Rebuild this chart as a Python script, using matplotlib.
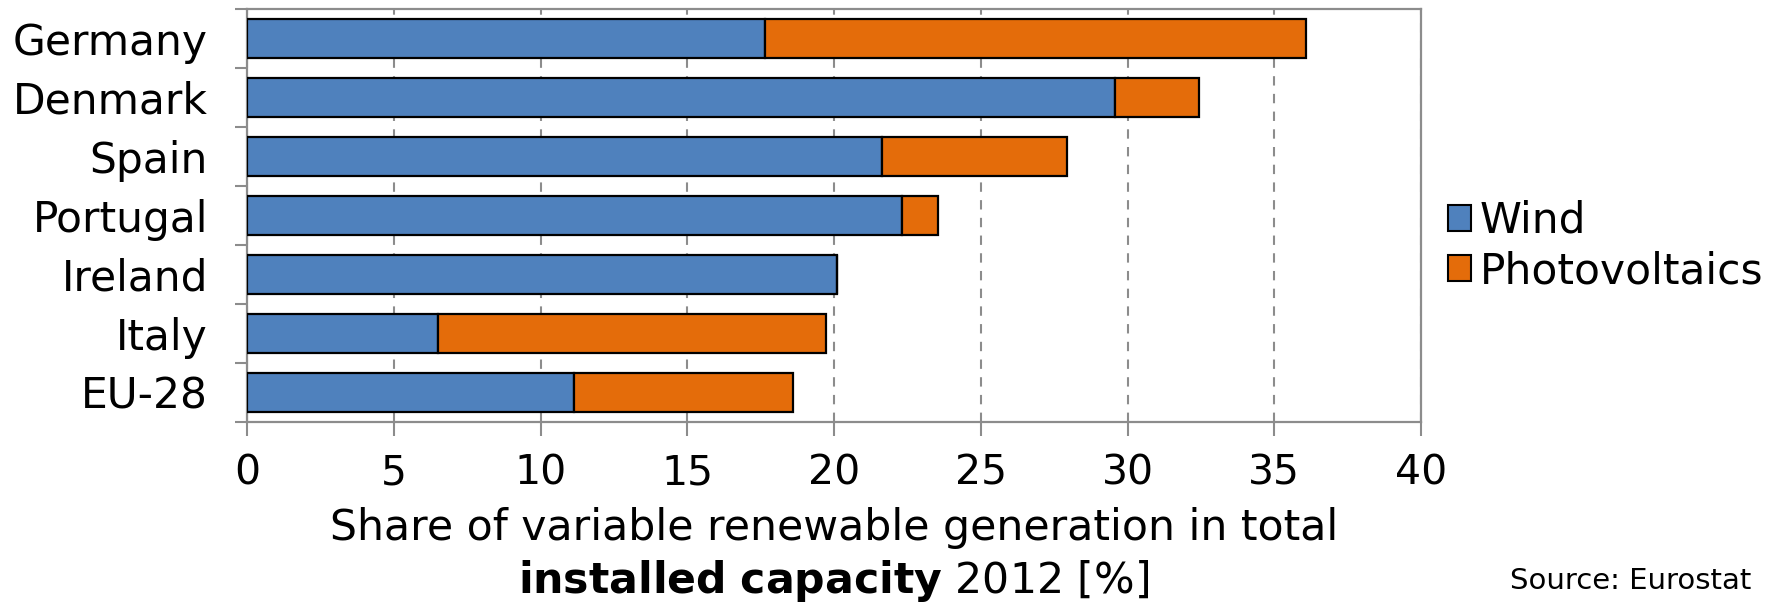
import matplotlib
matplotlib.use("Agg")
import matplotlib.pyplot as plt
from matplotlib.patches import Patch
import numpy as np

plt.rcParams['font.family'] = ['DejaVu Sans']
plt.rcParams['mathtext.fontset'] = 'dejavusans'

# Share of variable renewable generation in total installed capacity, 2012 [%]
countries = ["Germany", "Denmark", "Spain", "Portugal", "Ireland", "Italy", "EU-28"]
wind = [17.65, 29.57, 21.65, 22.33, 20.09, 6.51, 11.15]
photovoltaics = [18.43, 2.86, 6.29, 1.21, 0.0, 13.23, 7.44]
x_ticks = [0, 5, 10, 15, 20, 25, 30, 35, 40]

WIND_COLOR = "#4F81BD"
PV_COLOR = "#E46C0A"
FRAME_COLOR = "#8C8C8C"

fig = plt.figure(figsize=(17.77, 6.05), dpi=100)
ax = fig.add_axes([247 / 1777, 1 - 421.6 / 605, (1421 - 247) / 1777, (421.6 - 9) / 605])

y = np.arange(len(countries))
bar_h = 0.66
ax.barh(y, wind, height=bar_h, color=WIND_COLOR, edgecolor="black", linewidth=1.6,
        label="Wind", zorder=3)
ax.barh(y, photovoltaics, left=wind, height=bar_h, color=PV_COLOR, edgecolor="black",
        linewidth=1.6, label="Photovoltaics", zorder=3)

ax.set_xlim(0, 40)
ax.set_ylim(len(countries) - 0.5, -0.5)

# dashed vertical gridlines
ax.set_xticks(x_ticks)
ax.set_xticklabels([str(t) for t in x_ticks])
ax.xaxis.grid(True, linestyle=(0, (4.5, 4)), color=FRAME_COLOR, linewidth=1.5, zorder=0)
ax.set_axisbelow(True)

# category labels with separator ticks between categories
ax.set_yticks(y)
ax.set_yticklabels(countries)
ax.set_yticks(np.arange(-0.5, len(countries) + 0.5, 1), minor=True)
ax.tick_params(axis="y", which="major", length=0, pad=28, labelsize=30.5)
ax.tick_params(axis="y", which="minor", length=9, width=1.5, color=FRAME_COLOR, direction="out")
ax.tick_params(axis="x", which="major", length=10, width=1.5, color=FRAME_COLOR,
               direction="out", pad=13, labelsize=29.5)

for s in ax.spines.values():
    s.set_color(FRAME_COLOR)
    s.set_linewidth(1.6)

# axis title on two lines, second line partly bold
cx = (247 + 1421) / 2 / 1777
fig.text(cx, 1 - 528 / 605, "Share of variable renewable generation in total",
         ha="center", va="center", fontsize=30.7)
fig.text(cx, 1 - 581 / 605, r"$\mathbf{installed\ capacity}$ 2012 [%]",
         ha="center", va="center", fontsize=30.7)

fig.text(1751 / 1777, 1 - 581 / 605, "Source: Eurostat", ha="right", va="center", fontsize=21)

handles = [Patch(facecolor=WIND_COLOR, edgecolor="black", linewidth=1.5),
           Patch(facecolor=PV_COLOR, edgecolor="black", linewidth=1.5)]
fig.legend(handles, ["Wind", "Photovoltaics"], loc="center left",
           bbox_to_anchor=(1448 / 1777, 1 - 246 / 605), frameon=False, fontsize=30.5,
           handlelength=0.55, handleheight=0.55, handletextpad=0.2, labelspacing=0.2,
           borderpad=0, borderaxespad=0)

fig.savefig("out.png", dpi=100)
